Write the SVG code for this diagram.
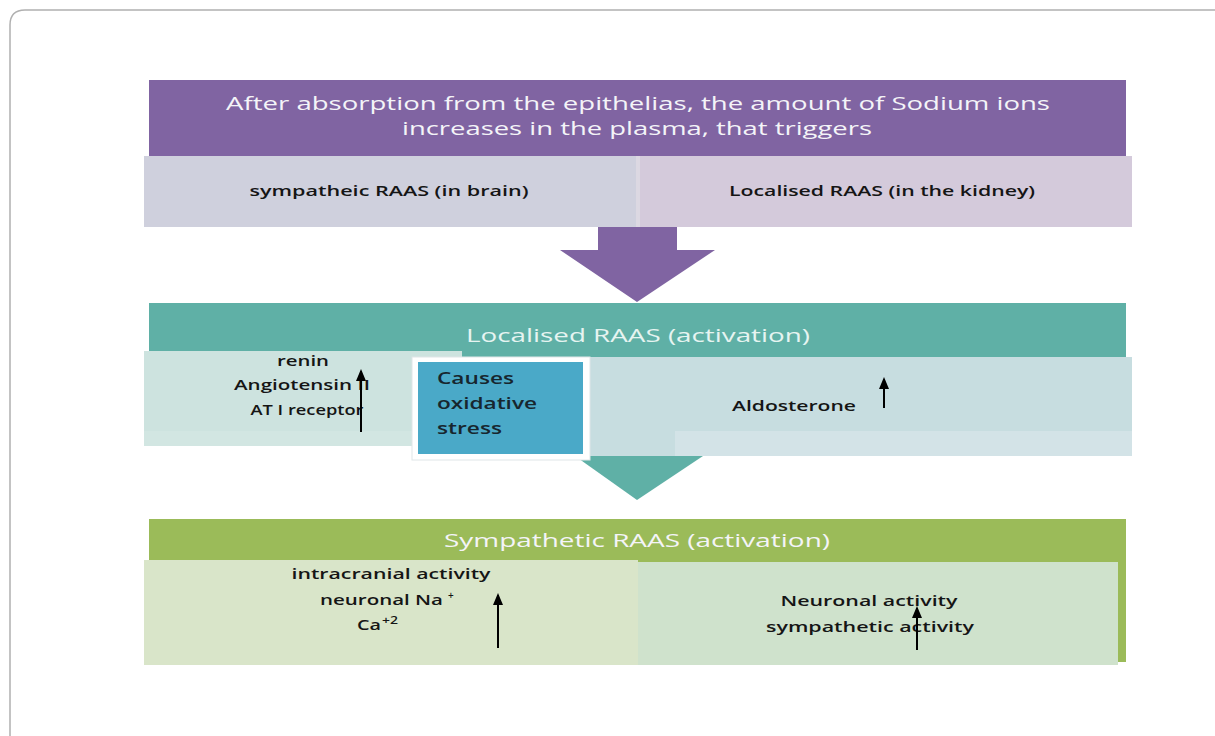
<svg xmlns="http://www.w3.org/2000/svg" width="1215" height="736" viewBox="0 0 1215 736">
<style>
text{font-family:"Open Sans","DejaVu Sans",sans-serif}
.hd{fill:#f4f4f8;font-size:19px}
.dk{fill:#151515;font-size:15px;font-weight:600}
.sm{fill:#151515;font-size:14.5px;font-weight:600}
.cs{fill:#17262e;font-size:16.5px;font-weight:600}
.sup{fill:#151515;font-size:10px;font-weight:600}
.up{stroke:#000;stroke-width:2;fill:none;marker-end:url(#ah)}
</style>
<defs>
<marker id="ah" viewBox="0 0 12 10" refX="10" refY="5" markerWidth="12" markerHeight="10" markerUnits="userSpaceOnUse" orient="auto">
<path d="M0,0 L12,5 L0,10 Z" fill="#000"/>
</marker>
</defs>
<rect width="1215" height="736" fill="#fff"/>
<path d="M10,740 L10,25 Q10,10 25,10 L1220,10" fill="none" stroke="#b0b0b0" stroke-width="1.5"/>

<g id="top-box">
<rect x="149" y="80" width="977" height="76" fill="#8064a2"/>
<text class="hd" x="638" y="110" text-anchor="middle" textLength="824" lengthAdjust="spacingAndGlyphs">After absorption from the epithelias, the amount of Sodium ions</text>
<text class="hd" x="637" y="135" text-anchor="middle" textLength="470" lengthAdjust="spacingAndGlyphs">increases in the plasma, that triggers</text>
</g>
<g id="brain-cell">
<rect x="144" y="156" width="493" height="71" fill="#cfd0dd"/>
<text class="dk" x="389" y="196" text-anchor="middle" textLength="279" lengthAdjust="spacingAndGlyphs">sympatheic RAAS (in brain)</text>
</g>
<g id="kidney-cell">
<rect x="639" y="156" width="493" height="71" fill="#d4cadb"/>
<text class="dk" x="882" y="196" text-anchor="middle" textLength="306" lengthAdjust="spacingAndGlyphs">Localised RAAS (in the kidney)</text>
</g>
<rect x="636" y="156" width="4" height="71" fill="#dcd8e2"/>

<g id="connectors">
<path d="M598,227 L677,227 L677,250 L715,250 L637,302 L560,250 L598,250 Z" fill="#8064a2"/>
<path d="M575,456 L703,456 L637,500 Z" fill="#5fb0a6"/>
</g>

<g id="localised-header">
<rect x="149" y="303" width="977" height="54" fill="#5fb0a6"/>
<text class="hd" x="638" y="342" text-anchor="middle" textLength="344" lengthAdjust="spacingAndGlyphs" style="fill:#e6f4f1">Localised RAAS (activation)</text>
</g>
<g id="localised-left">
<rect x="144" y="351" width="318" height="95" fill="#d2e6e2"/>
<rect x="144" y="351" width="318" height="80" fill="#cde3df"/>
<text class="sm" x="303" y="366" text-anchor="middle" textLength="52" lengthAdjust="spacingAndGlyphs">renin</text>
<text class="sm" x="302" y="390" text-anchor="middle" textLength="136" lengthAdjust="spacingAndGlyphs">Angiotensin II</text>
<text class="sm" x="307" y="415" text-anchor="middle" textLength="113" lengthAdjust="spacingAndGlyphs">AT I receptor</text>
<line class="up" x1="361" y1="432" x2="361" y2="371"/>
</g>
<g id="localised-right">
<rect x="590" y="357" width="542" height="99" fill="#c7dde0"/>
<rect x="675" y="431" width="457" height="25" fill="#d3e3e7"/>
<text class="sm" x="794" y="411" text-anchor="middle" textLength="124" lengthAdjust="spacingAndGlyphs">Aldosterone</text>
<line class="up" x1="884" y1="408" x2="884" y2="379"/>
</g>
<g id="oxidative-stress">
<rect x="412" y="357" width="178" height="103" fill="#fff" stroke="#dfe6e8" stroke-width="1"/>
<rect x="418" y="362" width="165" height="92" fill="#4aa9c8"/>
<text class="cs" x="437" y="384" textLength="77" lengthAdjust="spacingAndGlyphs">Causes</text>
<text class="cs" x="437" y="409" textLength="100" lengthAdjust="spacingAndGlyphs">oxidative</text>
<text class="cs" x="437" y="434" textLength="65" lengthAdjust="spacingAndGlyphs">stress</text>
</g>

<g id="sympathetic-header">
<rect x="149" y="519" width="977" height="44" fill="#9bbb59"/>
<rect x="1118" y="519" width="8" height="143" fill="#9bbb59"/>
<text class="hd" x="637" y="547" text-anchor="middle" textLength="386" lengthAdjust="spacingAndGlyphs">Sympathetic RAAS (activation)</text>
</g>
<g id="sympathetic-left">
<rect x="144" y="560" width="494" height="105" fill="#d9e5c9"/>
<text class="sm" x="391" y="579" text-anchor="middle" textLength="199" lengthAdjust="spacingAndGlyphs">intracranial activity</text>
<text class="sm" x="320" y="605" textLength="123" lengthAdjust="spacingAndGlyphs">neuronal Na</text>
<text class="sup" x="448" y="599">+</text>
<text class="sm" x="357" y="630" textLength="24" lengthAdjust="spacingAndGlyphs">Ca</text>
<text class="sup" x="382" y="624" textLength="16" lengthAdjust="spacingAndGlyphs">+2</text>
<line class="up" x1="498" y1="648" x2="498" y2="595"/>
</g>
<g id="sympathetic-right">
<rect x="638" y="562" width="480" height="103" fill="#cfe2cc"/>
<text class="sm" x="869" y="606" text-anchor="middle" textLength="177" lengthAdjust="spacingAndGlyphs">Neuronal activity</text>
<text class="sm" x="870" y="632" text-anchor="middle" textLength="208" lengthAdjust="spacingAndGlyphs">sympathetic activity</text>
<line class="up" x1="917" y1="650" x2="917" y2="608"/>
</g>
</svg>
